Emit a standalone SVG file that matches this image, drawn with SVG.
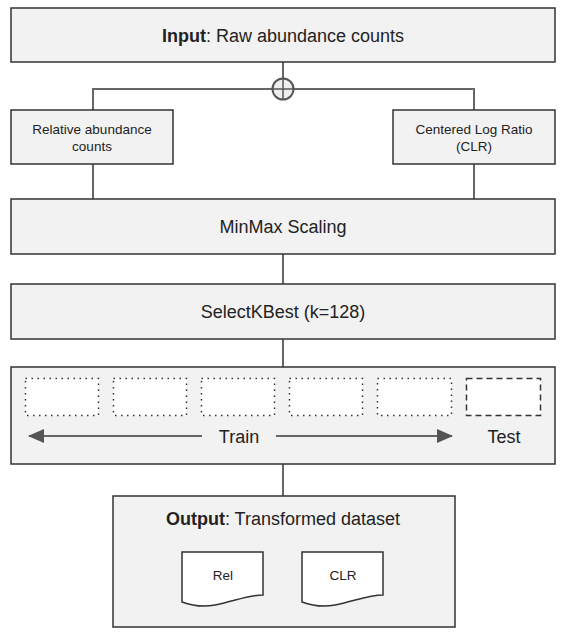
<svg xmlns="http://www.w3.org/2000/svg" width="566" height="638" viewBox="0 0 566 638">
<style>
.box{fill:#f2f2f2;stroke:#333;stroke-width:1.5}
.wbox{fill:#fff;stroke:#333;stroke-width:1.5}
.con{stroke:#666;stroke-width:2;fill:none}
.t{font-family:"Liberation Sans",Arial,sans-serif;fill:#222;text-anchor:middle}
.dot{fill:#fff;stroke:#333;stroke-width:1.5;stroke-dasharray:1.5 4.5}
.dash{fill:#fff;stroke:#333;stroke-width:1.5;stroke-dasharray:6 4}
</style>
<defs>
<marker id="ah" viewBox="0 0 16 14" refX="15" refY="7" markerWidth="16" markerHeight="14" markerUnits="userSpaceOnUse" orient="auto">
<path d="M0,0 L16,7 L0,14 Z" fill="#555"/>
</marker>
</defs>
<rect width="566" height="638" fill="#fff"/>
<g id="connectors">
<line class="con" x1="283" y1="62" x2="283" y2="78"/>
<path class="con" d="M93,110 V89 H273 M293,89 H474 V110"/>
<line class="con" x1="93" y1="164" x2="93" y2="199"/>
<line class="con" x1="474" y1="164" x2="474" y2="199"/>
<line class="con" x1="283" y1="254" x2="283" y2="284"/>
<line class="con" x1="283" y1="339" x2="283" y2="367"/>
<line class="con" x1="283" y1="464" x2="283" y2="496"/>
</g>
<g id="merge">
<circle cx="283" cy="89" r="10.5" fill="#eee" stroke="#555" stroke-width="2"/>
<path d="M272.5,89 H293.5 M283,78.5 V99.5" stroke="#555" stroke-width="1.5"/>
</g>
<g id="input">
<rect class="box" x="11" y="8" width="544" height="54"/>
<text class="t" x="283" y="42" font-size="18"><tspan font-weight="bold">Input</tspan>: Raw abundance counts</text>
</g>
<g id="relative">
<rect class="box" x="11" y="110" width="162" height="54"/>
<text class="t" x="92" y="134" font-size="13.5">Relative abundance</text>
<text class="t" x="92" y="151" font-size="13.5">counts</text>
</g>
<g id="clr">
<rect class="box" x="393" y="110" width="162" height="54"/>
<text class="t" x="474" y="134" font-size="13.5">Centered Log Ratio</text>
<text class="t" x="474" y="151" font-size="13.5">(CLR)</text>
</g>
<g id="minmax">
<rect class="box" x="11" y="199" width="544" height="55"/>
<text class="t" x="283" y="233" font-size="18">MinMax Scaling</text>
</g>
<g id="selectk">
<rect class="box" x="11" y="284" width="544" height="55"/>
<text class="t" x="283" y="318" font-size="18">SelectKBest (k=128)</text>
</g>
<g id="split">
<rect class="box" x="11" y="367" width="544" height="97"/>
<rect class="dot" x="25.5" y="378.5" width="73" height="37"/>
<rect class="dot" x="113.5" y="378.5" width="73" height="37"/>
<rect class="dot" x="201.5" y="378.5" width="73" height="37"/>
<rect class="dot" x="289.5" y="378.5" width="73" height="37"/>
<rect class="dot" x="377.5" y="378.5" width="74" height="37"/>
<rect class="dash" x="466.5" y="378.5" width="74" height="37"/>
<line x1="202" y1="436" x2="29" y2="436" stroke="#666" stroke-width="2" marker-end="url(#ah)"/>
<line x1="276" y1="436" x2="452" y2="436" stroke="#666" stroke-width="2" marker-end="url(#ah)"/>
<text class="t" x="239" y="443" font-size="18">Train</text>
<text class="t" x="504" y="443" font-size="18">Test</text>
</g>
<g id="output">
<rect class="box" x="113" y="496" width="342" height="131"/>
<text class="t" x="283" y="525" font-size="18"><tspan font-weight="bold">Output</tspan>: Transformed dataset</text>
<path class="wbox" d="M182,552 H263 V595 C248,595 232,602 215,605 C200,608 190,605 182,602 Z"/>
<text class="t" x="223" y="580" font-size="13.5">Rel</text>
<path class="wbox" d="M302,552 H383 V595 C368,595 352,602 335,605 C320,608 310,605 302,602 Z"/>
<text class="t" x="343" y="580" font-size="13.5">CLR</text>
</g>
</svg>
